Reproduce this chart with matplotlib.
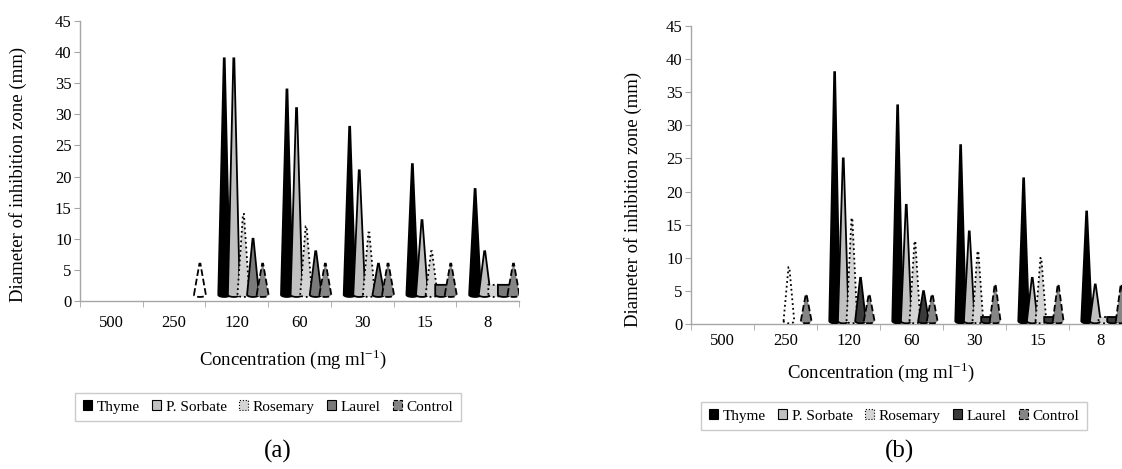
import numpy as np
import matplotlib
matplotlib.use("Agg")
import matplotlib.pyplot as plt
from matplotlib.patches import Polygon, Patch

plt.rcParams['font.family'] = ['Liberation Serif', 'DejaVu Serif']
plt.rcParams['mathtext.fontset'] = 'stix'

# data (None = no bar drawn, 0 = flat disc)
concentrations = ['500', '250', '120', '60', '30', '15', '8']
series_names = ['Thyme', 'P. Sorbate', 'Rosemary', 'Laurel', 'Control']

thyme_a = [None, None, 39, 34, 28, 22, 18]
sorbate_a = [None, None, 39, 31, 21, 13, 8]
rosemary_a = [None, None, 14, 12, 11, 8, 0]
laurel_a = [None, None, 10, 8, 6, 0, 0]
control_a = [None, 6, 6, 6, 6, 6, 6]
hollow_a = [('Control', '250')]

thyme_b = [None, None, 38, 33, 27, 22, 17]
sorbate_b = [None, None, 25, 18, 14, 7, 6]
rosemary_b = [None, 8.6, 16, 12.5, 11, 10, 0]
laurel_b = [None, None, 7, 5, 0, 0, 0]
control_b = [None, 4.5, 4.5, 4.5, 6, 6, 6]
hollow_b = [('Rosemary', '250')]

y_ticks = np.arange(0, 50, 5)

edge_styles = ['-', '-', ':', '-', '--']
colors_a = ['#000000', '#c0c0c0', '#d4d4d4', '#7a7a7a', '#858585']
colors_b = ['#000000', '#c0c0c0', '#d4d4d4', '#3a3a3a', '#858585']


def draw_cones(ax, values, colors, hollow, first, step, width, base, disc_top):
    for j, (name, vals) in enumerate(zip(series_names, values)):
        for i, v in enumerate(vals):
            if v is None:
                continue
            xc = i + first + j * step
            hw = width / 2
            t = np.linspace(0, np.pi, 20)
            arc = np.column_stack([xc + hw * np.cos(t), base - 0.35 * np.sin(t)])
            if v == 0:
                top = [(xc - hw, disc_top), (xc + hw, disc_top)]
            else:
                top = [(xc - hw * 0.08, v), (xc + hw * 0.08, v)]
            # left base -> top -> right base -> arc back under the base
            pts = np.vstack([[xc - hw, base], top, [xc + hw, base], arc])
            is_hollow = (name, concentrations[i]) in hollow
            poly = Polygon(pts, closed=True,
                           facecolor='none' if is_hollow else colors[j],
                           edgecolor='black', linewidth=1.3,
                           linestyle=edge_styles[j], zorder=3 + j)
            ax.add_patch(poly)


def style_axes(ax):
    ax.set_xlim(0, len(concentrations))
    ax.set_ylim(0, 45)
    ax.set_yticks(y_ticks)
    ax.set_xticks(np.arange(len(concentrations) + 1), minor=True)
    ax.set_xticks(np.arange(len(concentrations)) + 0.5)
    ax.set_xticklabels(concentrations)
    for s in ['top', 'right']:
        ax.spines[s].set_visible(False)
    for s in ['left', 'bottom']:
        ax.spines[s].set_color('#a6a6a6')
        ax.spines[s].set_linewidth(1.0)
    ax.tick_params(axis='x', which='major', length=0, labelsize=12, pad=10)
    ax.tick_params(axis='x', which='minor', length=4, color='#a6a6a6')
    ax.tick_params(axis='y', length=4, color='#a6a6a6', labelsize=12, pad=2)


W, H = 1122, 469
fig = plt.figure(figsize=(W / 100, H / 100), dpi=100)

ax_a = fig.add_axes([80 / W, 1 - 301 / H, 439 / W, 280 / H])
draw_cones(ax_a, [thyme_a, sorbate_a, rosemary_a, laurel_a, control_a],
           colors_a, hollow_a, first=0.30, step=0.153, width=0.19,
           base=1.0, disc_top=2.6)
style_axes(ax_a)

ax_b = fig.add_axes([691 / W, 1 - 324.3 / H, 441 / W, 298.6 / H])
draw_cones(ax_b, [thyme_b, sorbate_b, rosemary_b, laurel_b, control_b],
           colors_b, hollow_b, first=0.28, step=0.137, width=0.17,
           base=0.5, disc_top=1.1)
style_axes(ax_b)
ax_b.tick_params(axis='x', which='major', pad=6)

ylabel = 'Diameter of inhibition zone (mm)'
fig.text(18 / W, 1 - 174 / H, ylabel, rotation=90, ha='center', va='center', fontsize=13.5)
fig.text(633 / W, 1 - 199 / H, ylabel, rotation=90, ha='center', va='center', fontsize=13.5)

xlabel = r'Concentration (mg ml$^{\mathregular{-1}}$)'
fig.text(293 / W, 1 - 359 / H, xlabel, ha='center', va='center', fontsize=13.5)
fig.text(881 / W, 1 - 372 / H, xlabel, ha='center', va='center', fontsize=13.5)

for colors, cx, cy in [(colors_a, 268, 407), (colors_b, 894, 416)]:
    handles = [Patch(facecolor=c, edgecolor='black', linestyle=ls, linewidth=0.8)
               for c, ls in zip(colors, edge_styles)]
    fig.legend(handles, series_names, loc='center',
               bbox_to_anchor=(cx / W, 1 - cy / H), ncol=5, fontsize=11,
               frameon=True, fancybox=False, edgecolor='#bfbfbf',
               handlelength=0.6, handleheight=0.6, handletextpad=0.3,
               columnspacing=0.8, borderpad=0.5, borderaxespad=0)

fig.text(278 / W, 1 - 451 / H, '(a)', ha='center', va='center', fontsize=18)
fig.text(900 / W, 1 - 451 / H, '(b)', ha='center', va='center', fontsize=18)

fig.savefig('out.png', dpi=100)
